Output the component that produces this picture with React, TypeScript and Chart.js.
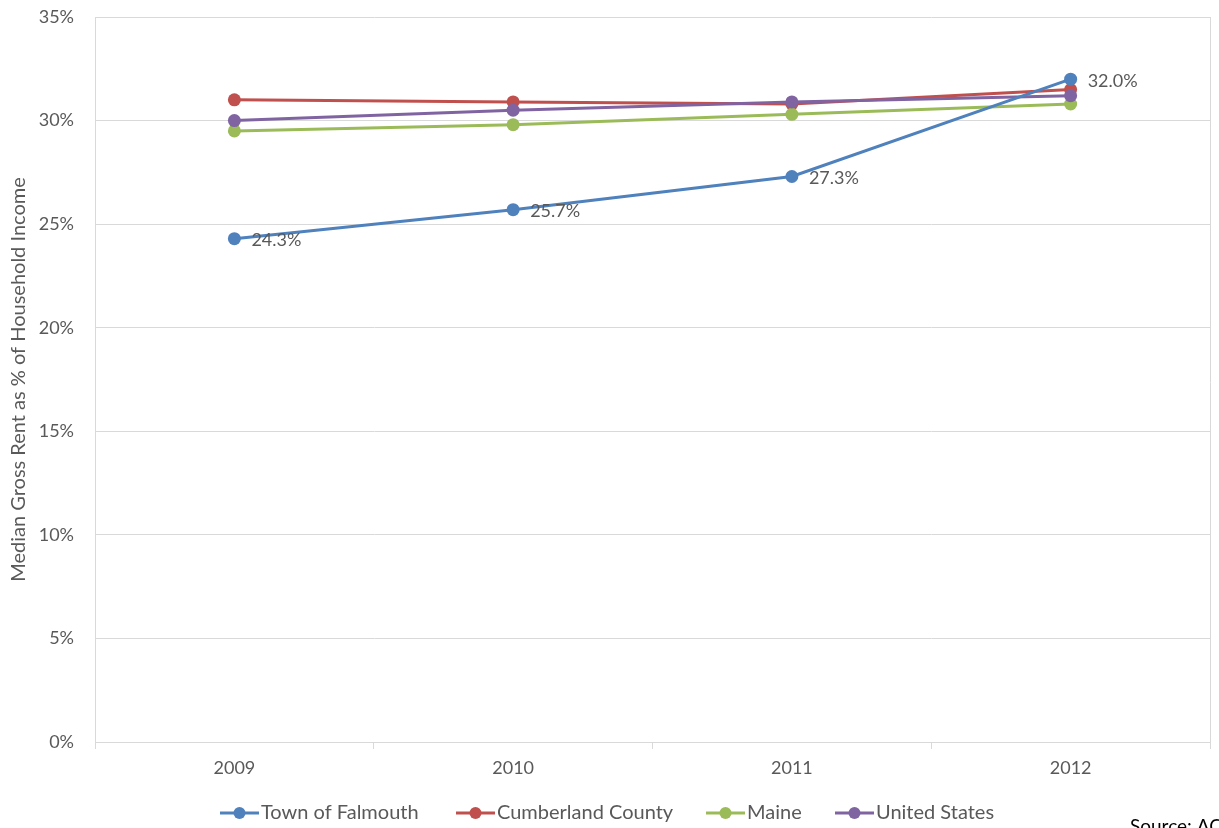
import React, { useEffect, useRef } from "react";
import { Chart, registerables } from "chart.js";

Chart.register(...registerables);

const years = ["2009", "2010", "2011", "2012"];
const falmouth = [24.3, 25.7, 27.3, 32.0];
const cumberland = [31.0, 30.9, 30.8, 31.5];
const maine = [29.5, 29.8, 30.3, 30.8];
const unitedStates = [30.0, 30.5, 30.9, 31.2];
const seriesNames = ["Town of Falmouth", "Cumberland County", "Maine", "United States"];
const seriesColors = ["#4F81BD", "#C0504D", "#9BBB59", "#8064A2"];
const yTitle = "Median Gross Rent as % of Household Income";
const sourceNote = "Source: ACS";

const FONT = "Lato, 'Open Sans', sans-serif";
const TEXT = "#595959";

export default function App() {
  const ref = useRef<HTMLCanvasElement | null>(null);

  useEffect(() => {
    document.body.style.margin = "0";
    const canvas = ref.current;
    if (!canvas) return;

    const valueSets = [falmouth, cumberland, maine, unitedStates];
    const drawOrder = [0, 3, 2, 1];
    const legendX = [220, 456, 706, 835];

    const extras = {
      id: "extras",
      afterDatasetsDraw(chart: any) {
        const ctx = chart.ctx;
        const area = chart.chartArea;
        const meta = chart.getDatasetMeta(0);
        ctx.save();
        // value labels for the town series
        ctx.font = `18px ${FONT}`;
        ctx.fillStyle = TEXT;
        ctx.textAlign = "left";
        ctx.textBaseline = "middle";
        meta.data.forEach((pt: any, i: number) => {
          ctx.fillText(falmouth[i].toFixed(1) + "%", pt.x + 17, pt.y + 2);
        });
        // right border of the plot
        ctx.strokeStyle = "#D9D9D9";
        ctx.lineWidth = 1;
        ctx.beginPath();
        ctx.moveTo(Math.round(area.right) + 0.5, area.top);
        ctx.lineTo(Math.round(area.right) + 0.5, area.bottom + 6);
        ctx.stroke();
        ctx.restore();
      },
      afterDraw(chart: any) {
        const ctx = chart.ctx;
        ctx.save();
        // legend
        ctx.font = `20px ${FONT}`;
        ctx.textBaseline = "middle";
        ctx.textAlign = "left";
        const legendY = 813;
        seriesNames.forEach((name, i) => {
          const x = legendX[i];
          ctx.strokeStyle = seriesColors[i];
          ctx.lineWidth = 3;
          ctx.beginPath();
          ctx.moveTo(x, legendY);
          ctx.lineTo(x + 39, legendY);
          ctx.stroke();
          ctx.fillStyle = seriesColors[i];
          ctx.beginPath();
          ctx.arc(x + 19.5, legendY, 6, 0, Math.PI * 2);
          ctx.fill();
          ctx.fillStyle = TEXT;
          ctx.fillText(name, x + 41, legendY);
        });
        // source note
        ctx.font = `19px ${FONT}`;
        ctx.fillStyle = "#000";
        ctx.textBaseline = "top";
        ctx.fillText(sourceNote, 1130, 817);
        ctx.restore();
      },
    };

    const chart = new Chart(canvas, {
      type: "line",
      data: {
        labels: years,
        datasets: valueSets.map((values, i) => ({
          label: seriesNames[i],
          data: values,
          borderColor: seriesColors[i],
          backgroundColor: seriesColors[i],
          borderWidth: 3,
          pointRadius: 6.5,
          pointBorderWidth: 0,
          pointHoverRadius: 6.5,
          tension: 0,
          fill: false,
          order: drawOrder[i],
        })),
      },
      options: {
        animation: false,
        responsive: false,
        maintainAspectRatio: false,
        layout: { padding: { top: 17, right: 9, bottom: 0, left: 0 } },
        plugins: {
          legend: { display: false },
          tooltip: { enabled: false },
        },
        scales: {
          x: {
            offset: true,
            grid: {
              offset: true,
              drawOnChartArea: false,
              color: "#D9D9D9",
              tickLength: 7,
            },
            border: { color: "#D9D9D9" },
            ticks: {
              color: TEXT,
              font: { family: FONT, size: 18 },
              padding: 8,
            },
            afterFit(scale: any) {
              scale.height = 86;
            },
          },
          y: {
            min: 0,
            max: 35,
            grid: { color: "#D9D9D9", drawTicks: false },
            border: { color: "#D9D9D9" },
            ticks: {
              stepSize: 5,
              color: TEXT,
              font: { family: FONT, size: 18 },
              padding: 21,
              callback: (v: any) => v + "%",
            },
            title: {
              display: true,
              text: yTitle,
              color: TEXT,
              font: { family: FONT, size: 20 },
              padding: { top: 7, bottom: 0 },
            },
            afterFit(scale: any) {
              scale.width = 95;
              scale.paddingTop = 0;
              scale.paddingBottom = 0;
            },
          },
        },
      },
      plugins: [extras],
    });

    return () => chart.destroy();
  }, []);

  return (
    <div style={{ width: 1219, height: 828, background: "#fff" }}>
      <canvas ref={ref} width={1219} height={828} style={{ display: "block" }} />
    </div>
  );
}
